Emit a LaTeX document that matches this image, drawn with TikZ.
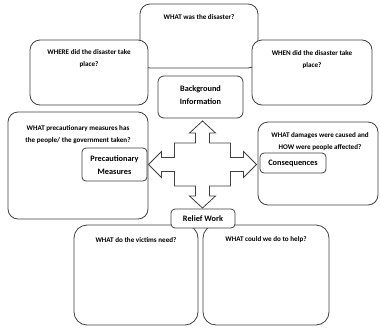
\documentclass[tikz,border=0pt]{standalone}
\usepackage{fontspec}
\setmainfont{Carlito}
\begin{document}
\begin{tikzpicture}[x=1pt,y=-1pt,
  edge/.style={draw=black!75, line width=0.8pt},
  bigbox/.style={edge, fill=white, rounded corners=10pt},
  wideboxr/.style={edge, fill=white, rounded corners=13pt},
  tagbox/.style={edge, fill=white, rounded corners=4pt},
  qtext/.style={font=\fontsize{7.1}{12}\selectfont\bfseries, align=center, inner sep=0pt, text=black},
  tagtext/.style={font=\fontsize{8.3}{13}\selectfont\bfseries, align=center, inner sep=0pt, text=black}]
\useasboundingbox[fill=white] (0,0) rectangle (380,327);

% question boxes
\draw[bigbox] (140,4) rectangle (258,68);
\node[qtext] (qwhat) at (199,17) {WHAT was the disaster?};
\draw[bigbox] (30,40) rectangle (148,105);
\node[qtext] (qwhere) at (89,59) {WHERE did the disaster take\\place?};
\draw[bigbox] (252,40) rectangle (372,105);
\node[qtext] (qwhen) at (312,59.5) {WHEN did the disaster take\\place?};
\draw[bigbox] (8,112) rectangle (148,219);
\node[qtext] (qprec) at (78,134.5) {WHAT precautionary measures has\\the people/ the government taken?};
\draw[bigbox] (258,122) rectangle (378,205);
\node[qtext] (qdmg) at (320,142) {WHAT damages were caused and\\HOW were people affected?};
\draw[wideboxr] (74,225) rectangle (198,325);
\node[qtext] (qneed) at (136,240) {WHAT do the victims need?};
\draw[wideboxr] (203,225) rectangle (329,325);
\node[qtext] (qhelp) at (266,240) {WHAT could we do to help?};

% four-way arrow in the middle
\begin{scope}[shift={(202.5,164.5)}]
\draw[edge, fill=white, line join=miter]
  (0,-43.5) -- (13,-31.5) -- (7,-31.5) -- (7,-21.5) -- (28,-21.5) -- (28,-7)
  -- (41,-7) -- (41,-13) -- (54,0) -- (41,13) -- (41,7) -- (28,7) -- (28,21.5)
  -- (7,21.5) -- (7,31.5) -- (13,31.5) -- (0,43.5) -- (-13,31.5) -- (-7,31.5)
  -- (-7,21.5) -- (-28,21.5) -- (-28,7) -- (-41,7) -- (-41,13) -- (-54,0)
  -- (-41,-13) -- (-41,-7) -- (-28,-7) -- (-28,-21.5) -- (-7,-21.5)
  -- (-7,-31.5) -- (-13,-31.5) -- cycle;
\end{scope}

% topic tags
\draw[tagbox, rounded corners=6pt] (158,76) rectangle (243,118);
\node[tagtext] (tbg) at (200.5,95) {Background\\Information};
\draw[tagbox] (82,148) rectangle (147,181);
\node[tagtext] (tprec) at (114.5,165) {Precautionary\\Measures};
\draw[tagbox] (260,153) rectangle (326,173);
\node[tagtext] (tcons) at (293,163.5) {Consequences};
\draw[tagbox] (171,209) rectangle (235,228);
\node[tagtext] (trelief) at (203,218.5) {Relief Work};
\end{tikzpicture}
\end{document}
